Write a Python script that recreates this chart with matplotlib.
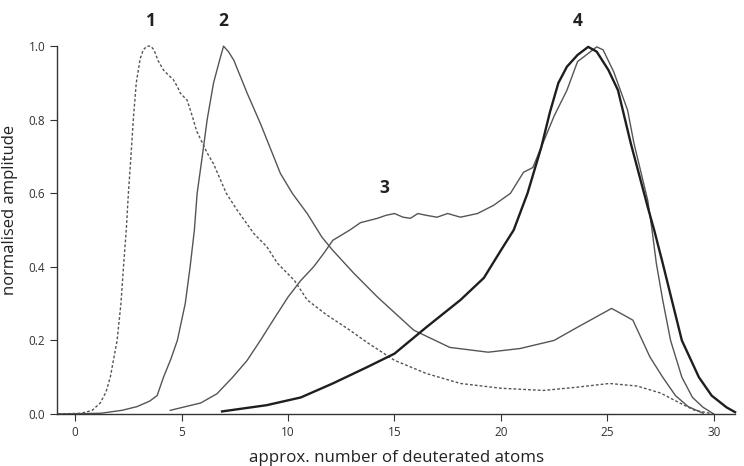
import matplotlib.pyplot as plt

plt.rcParams['font.family'] = ['Open Sans', 'DejaVu Sans']

# curve 1 (dotted)
x1 = [-0.8, 0.3, 0.8, 1.18, 1.45, 1.65, 1.97, 2.15, 2.27, 2.4, 2.5, 2.62, 2.73, 2.87, 3.05, 3.2,
      3.38, 3.55, 3.7, 3.9, 4.15, 4.4, 4.6, 4.8, 4.94, 5.26, 5.5, 5.7, 6.2, 6.5, 7.1, 7.6, 8.4, 9.0,
      9.5, 10.3, 10.9, 11.8, 12.9, 13.7, 15.0, 16.5, 18.1, 20.0, 22.0, 23.6, 25.1, 26.4, 27.5, 28.4,
      29.1, 30.0]
y1 = [0.0, 0.002, 0.01, 0.03, 0.06, 0.1, 0.2, 0.3, 0.4, 0.5, 0.6, 0.7, 0.8, 0.9, 0.965, 0.99,
      1.0, 1.0, 0.99, 0.96, 0.935, 0.92, 0.91, 0.89, 0.872, 0.853, 0.81, 0.77, 0.71, 0.68, 0.6,
      0.555, 0.49, 0.455, 0.41, 0.363, 0.31, 0.27, 0.228, 0.195, 0.146, 0.11, 0.083, 0.07, 0.064,
      0.073, 0.083, 0.076, 0.057, 0.03, 0.01, 0.0]

# curve 2
x2 = [-0.8, 1.2, 2.2, 2.9, 3.5, 3.85, 4.15, 4.5, 4.8, 5.17, 5.4, 5.6, 5.73, 5.97, 6.2, 6.5, 6.8,
      6.97, 7.2, 7.45, 8.08, 8.7, 9.64, 10.2, 10.9, 11.6, 12.1, 13.1, 14.2, 15.9, 17.6, 19.4, 20.9,
      22.5, 23.6, 25.2, 25.8, 26.2, 27.0, 27.6, 28.2, 28.8, 29.5]
y2 = [0.0, 0.002, 0.01, 0.02, 0.035, 0.05, 0.1, 0.15, 0.2, 0.3, 0.4, 0.5, 0.6, 0.7, 0.8, 0.9,
      0.965, 1.0, 0.985, 0.962, 0.872, 0.79, 0.654, 0.6, 0.545, 0.48, 0.445, 0.382, 0.318, 0.228,
      0.181, 0.168, 0.178, 0.2, 0.236, 0.287, 0.268, 0.255, 0.155, 0.1, 0.05, 0.02, 0.002]

# curve 3
x3 = [4.47, 5.9, 6.66, 7.4, 8.07, 8.7, 9.3, 10.0, 10.6, 11.2, 11.67, 12.1, 12.9, 13.4, 14.2, 14.6,
      15.0, 15.4, 15.75, 16.1, 16.5, 17.0, 17.5, 18.1, 18.5, 18.9, 19.65, 20.45, 21.06, 21.5, 21.9,
      22.5, 23.1, 23.6, 24.1, 24.5, 24.8, 25.3, 25.95, 26.25, 26.9, 27.1, 27.3, 27.6, 27.97, 28.5,
      29.0, 29.5, 30.0]
y3 = [0.01, 0.03, 0.055, 0.1, 0.145, 0.2, 0.255, 0.318, 0.363, 0.4, 0.436, 0.472, 0.5, 0.52,
      0.532, 0.54, 0.545, 0.535, 0.532, 0.545, 0.54, 0.535, 0.545, 0.535, 0.54, 0.545, 0.567, 0.6,
      0.657, 0.67, 0.726, 0.81, 0.88, 0.958, 0.98, 0.998, 0.99, 0.93, 0.826, 0.736, 0.58, 0.5,
      0.41, 0.31, 0.2, 0.1, 0.045, 0.018, 0.0]

# curve 4 (thick)
x4 = [6.9, 9.0, 10.6, 12.1, 13.7, 15.0, 16.5, 18.1, 19.2, 20.0, 20.6, 21.25, 21.9, 22.3, 22.7, 23.1,
      23.6, 24.1, 24.5, 25.05, 25.5, 26.1, 26.9, 27.2, 27.6, 28.07, 28.5, 29.3, 29.9, 30.6, 31.0]
y4 = [0.007, 0.024, 0.045, 0.083, 0.127, 0.164, 0.236, 0.31, 0.37, 0.445, 0.5, 0.6, 0.726, 0.82,
      0.9, 0.944, 0.976, 0.998, 0.985, 0.935, 0.88, 0.736, 0.562, 0.5, 0.41, 0.3, 0.2, 0.1, 0.05,
      0.018, 0.005]

peak_labels = ['1', '2', '3', '4']
peak_x = [3.57, 6.96, 14.5, 23.6]
peak_y = [1.069, 1.069, 0.614, 1.069]

fig = plt.figure(figsize=(7.44, 4.66), dpi=100)
ax = fig.add_axes([0.077, 0.1116, 0.911, 0.7894])

ax.plot(x1, y1, color='#555555', lw=1.0, ls=(0, (2, 1.5)), clip_on=False)
ax.plot(x2, y2, color='#555555', lw=1.0, clip_on=False)
ax.plot(x3, y3, color='#555555', lw=1.0, clip_on=False)
ax.plot(x4, y4, color='#1e1e1e', lw=1.7, clip_on=False)

for lab, px, py in zip(peak_labels, peak_x, peak_y):
    ax.text(px, py, lab, ha='center', va='center', fontsize=12.5, fontweight='bold', color='#222222')

ax.set_xlim(-0.84, 31.0)
ax.set_ylim(0, 1.0)
ax.set_xticks([0, 5, 10, 15, 20, 25, 30])
ax.set_yticks([0.0, 0.2, 0.4, 0.6, 0.8, 1.0])
ax.set_yticklabels(['0.0', '0.2', '0.4', '0.6', '0.8', '1.0'])
ax.tick_params(labelsize=8.5, colors='#333333', length=5, width=0.8)
for s in ['top', 'right']:
    ax.spines[s].set_visible(False)
for s in ['left', 'bottom']:
    ax.spines[s].set_color('#333333')
    ax.spines[s].set_linewidth(1.0)

ax.set_xlabel('approx. number of deuterated atoms', fontsize=12.2, color='#222222', labelpad=8)
ax.set_ylabel('normalised amplitude', fontsize=12, color='#222222')
ax.yaxis.set_label_coords(-0.058, 0.555)

fig.savefig('out.png', dpi=100)
